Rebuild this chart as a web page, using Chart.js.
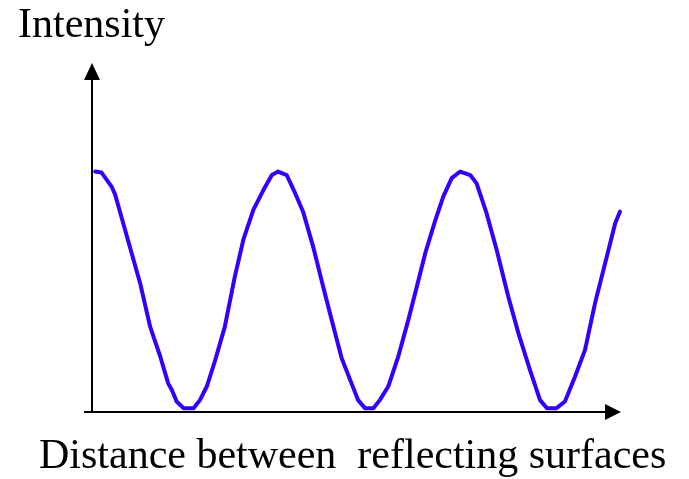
<!DOCTYPE html>
<html>
<head>
<meta charset="utf-8">
<script src="https://cdn.jsdelivr.net/npm/chart.js@4"></script>
<style>
    html, body { margin: 0; padding: 0; background: #ffffff; }
    #wrap { width: 689px; height: 479px; }
</style>
</head>
<body>
<div id="wrap"><canvas id="fringeChart" width="689" height="479"></canvas></div>
<script>
// Fringe intensity vs. plate separation (arbitrary units)
let distance = [0.06, 0.18, 0.37, 0.44, 0.59, 0.75, 0.91, 1.10, 1.29, 1.44, 1.51, 1.60, 1.73, 1.92,
    2.04, 2.17, 2.33, 2.51, 2.70, 2.86, 3.05, 3.24, 3.40, 3.52, 3.68, 3.84, 3.99, 4.18, 4.37,
    4.53, 4.72, 4.88, 5.03, 5.16, 5.32, 5.44, 5.60, 5.79, 5.98, 6.14, 6.30, 6.48, 6.64, 6.80,
    6.96, 7.15, 7.27, 7.46, 7.65, 7.87, 8.06, 8.28, 8.47, 8.60, 8.78, 8.94, 9.13, 9.32, 9.51,
    9.70, 9.89, 9.98];
let intensity = [6.89, 6.86, 6.46, 6.22, 5.41, 4.55, 3.69, 2.44, 1.59, 0.82, 0.63, 0.30, 0.11, 0.11,
    0.34, 0.73, 1.49, 2.44, 3.88, 4.93, 5.79, 6.36, 6.79, 6.89, 6.79, 6.27, 5.74, 4.74, 3.59,
    2.64, 1.54, 0.92, 0.34, 0.11, 0.11, 0.34, 0.73, 1.59, 2.64, 3.59, 4.55, 5.45, 6.17, 6.70,
    6.89, 6.79, 6.55, 5.69, 4.64, 3.30, 2.26, 1.20, 0.34, 0.11, 0.11, 0.30, 1.01, 1.78, 3.12,
    4.26, 5.41, 5.74];

let yLabel = "Intensity";
let xLabel = "Distance between  reflecting surfaces";

let points = [];
for (let i=0; i<distance.length; i++) {
    points.push({x: distance[i], y: intensity[i]});
}

// Plain arrowed axes plus the two captions
const axisArrows = {
    id: 'axisArrows',
    afterDatasetsDraw(chart) {
        const ctx = chart.ctx;
        const a = chart.chartArea;
        const x0 = a.left;
        const y0 = a.bottom;
        ctx.save();
        ctx.strokeStyle = '#000000';
        ctx.fillStyle = '#000000';
        ctx.lineWidth = 2;

        // y axis
        ctx.beginPath();
        ctx.moveTo(x0, y0);
        ctx.lineTo(x0, a.top + 14);
        ctx.stroke();
        ctx.beginPath();
        ctx.moveTo(x0, a.top);
        ctx.lineTo(x0 - 8, a.top + 17);
        ctx.lineTo(x0 + 8, a.top + 17);
        ctx.closePath();
        ctx.fill();

        // x axis
        ctx.beginPath();
        ctx.moveTo(x0 - 8, y0);
        ctx.lineTo(a.right - 14, y0);
        ctx.stroke();
        ctx.beginPath();
        ctx.moveTo(a.right, y0);
        ctx.lineTo(a.right - 16, y0 - 8);
        ctx.lineTo(a.right - 16, y0 + 8);
        ctx.closePath();
        ctx.fill();

        ctx.font = '42px "Liberation Serif", "Times New Roman", serif';
        ctx.textBaseline = 'alphabetic';
        ctx.textAlign = 'left';
        ctx.fillText(yLabel, 18, 37);
        ctx.fillText(xLabel, 39, 468);
        ctx.restore();
    }
};

const fringeChart = document.getElementById("fringeChart");

new Chart(fringeChart, {
    type: 'line',
    data: {
        datasets: [{
            data: points,
            borderColor: '#3300ff',
            borderWidth: 4,
            pointRadius: 0,
            tension: 0,
            borderJoinStyle: 'round',
            borderCapStyle: 'round',
            fill: false,
            clip: false
        }]
    },
    options: {
        responsive: false,
        animation: false,
        devicePixelRatio: 1,
        layout: {
            padding: {left: 92, right: 68, top: 63, bottom: 67}
        },
        plugins: {
            legend: { display: false },
            tooltip: { enabled: false },
            title: { display: false }
        },
        scales: {
            x: { type: 'linear', min: 0, max: 10, display: false },
            y: { type: 'linear', min: 0, max: 10, display: false }
        }
    },
    plugins: [axisArrows]
});
</script>
</body>
</html>
